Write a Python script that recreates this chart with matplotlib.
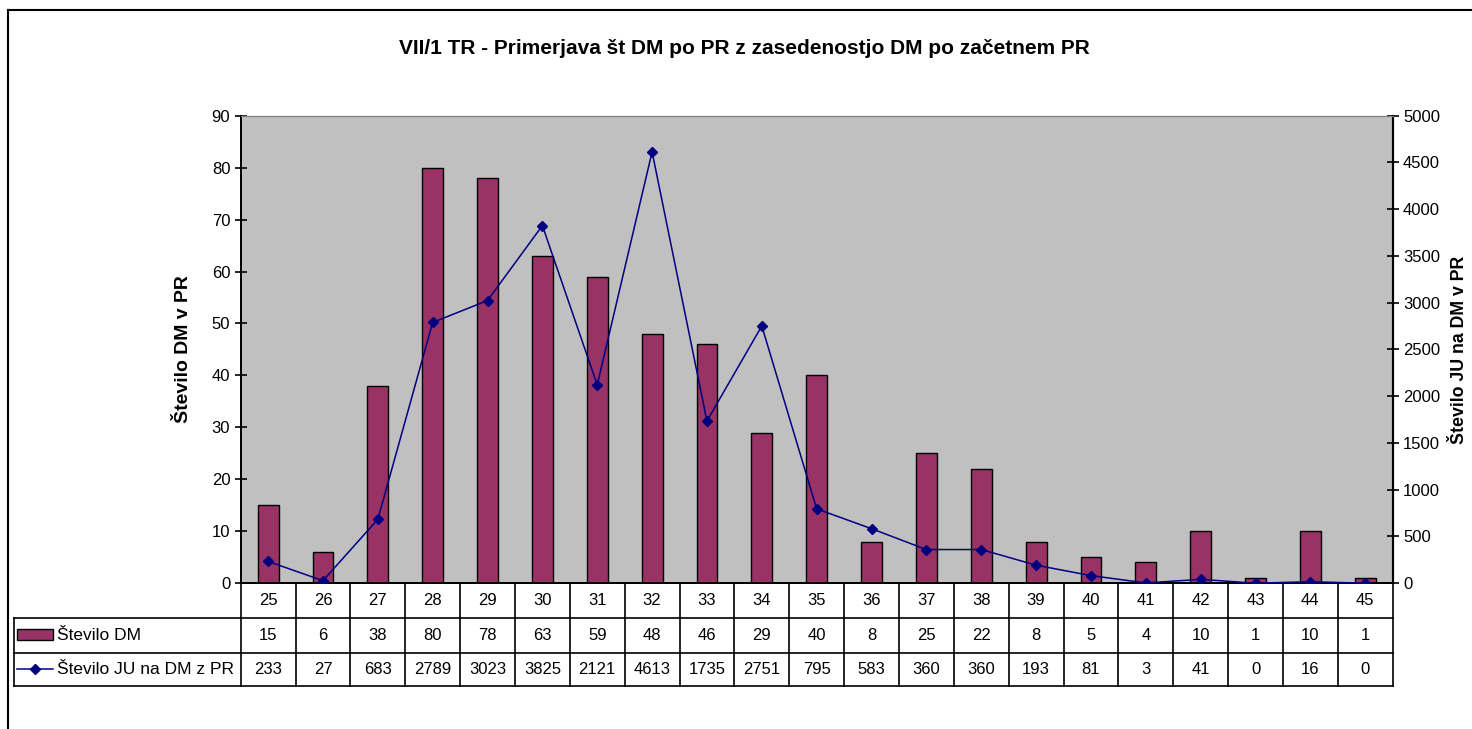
import matplotlib.pyplot as plt
from matplotlib.lines import Line2D
from matplotlib.patches import Rectangle
from matplotlib.transforms import blended_transform_factory

plt.rcParams['font.family'] = ['Liberation Sans', 'DejaVu Sans']

# podatki
kategorije = [25, 26, 27, 28, 29, 30, 31, 32, 33, 34, 35, 36, 37, 38, 39, 40, 41, 42, 43, 44, 45]
stevilo_dm = [15, 6, 38, 80, 78, 63, 59, 48, 46, 29, 40, 8, 25, 22, 8, 5, 4, 10, 1, 10, 1]
stevilo_ju = [233, 27, 683, 2789, 3023, 3825, 2121, 4613, 1735, 2751, 795, 583, 360, 360, 193, 81, 3, 41, 0, 16, 0]

bar_col = '#993366'
line_col = '#000080'

fig = plt.figure(figsize=(14.72, 7.29), dpi=100)
ax = fig.add_axes([0.1635, 0.2, 0.7826, 0.6413])
ax.set_facecolor('#C0C0C0')

x = list(range(len(kategorije)))
ax.bar(x, stevilo_dm, width=0.38, color=bar_col, edgecolor='black', linewidth=1, zorder=2)
ax.set_xlim(-0.5, len(x) - 0.5)
ax.set_ylim(0, 90)
ax.set_yticks(range(0, 91, 10))
ax.set_xticks([])
ax.tick_params(axis='y', direction='inout', length=8, width=1.2, labelsize=12)
ax.set_ylabel('Število DM v PR', fontsize=14, fontweight='bold', labelpad=14)

ax2 = ax.twinx()
ax2.plot(x, stevilo_ju, color=line_col, marker='D', markersize=5.5, linewidth=1.1, zorder=3)
ax2.set_ylim(0, 5000)
ax2.set_yticks(range(0, 5001, 500))
ax2.tick_params(axis='y', direction='inout', length=8, width=1.2, labelsize=12)
ax2.set_ylabel('Število JU na DM v PR', fontsize=12.8, fontweight='bold', labelpad=8)

for a in (ax, ax2):
    a.spines['top'].set_color('#808080')
    a.spines['left'].set_color('black')
    a.spines['right'].set_color('black')
    a.spines['bottom'].set_color('black')
    a.spines['left'].set_linewidth(1.3)
    a.spines['right'].set_linewidth(1.5)
    a.spines['bottom'].set_linewidth(1.3)

# tabela s podatki
tr = blended_transform_factory(ax.transData, ax.transAxes)
rows = [0, -0.0749, -0.1497, -0.219]
leg_left = -0.1972
for i, k in enumerate(kategorije):
    ax.text(i, (rows[0] + rows[1]) / 2, str(k), transform=tr, ha='center', va='center', fontsize=12)
    ax.text(i, (rows[1] + rows[2]) / 2, str(stevilo_dm[i]), transform=tr, ha='center', va='center', fontsize=12)
    ax.text(i, (rows[2] + rows[3]) / 2, str(stevilo_ju[i]), transform=tr, ha='center', va='center', fontsize=12)
for i in range(len(kategorije) + 1):
    ax.add_line(Line2D([i - 0.5, i - 0.5], [rows[0], rows[3]], transform=tr, color='black', lw=1.2, clip_on=False))
for r in rows[1:]:
    ax.add_line(Line2D([leg_left, 1], [r, r], transform=ax.transAxes, color='black', lw=1.2, clip_on=False))
ax.add_line(Line2D([leg_left, leg_left], [rows[1], rows[3]], transform=ax.transAxes, color='black', lw=1.2, clip_on=False))

# legenda v tabeli
ax.add_patch(Rectangle((leg_left + 0.003, rows[1] - 0.046), 0.031, 0.024, transform=ax.transAxes,
                       facecolor=bar_col, edgecolor='black', lw=1, clip_on=False))
ax.text(leg_left + 0.038, (rows[1] + rows[2]) / 2, 'Število DM', transform=ax.transAxes,
        ha='left', va='center', fontsize=12.5)
y_leg = (rows[2] + rows[3]) / 2
ax.add_line(Line2D([leg_left + 0.003, leg_left + 0.034], [y_leg, y_leg], transform=ax.transAxes,
                   color=line_col, lw=1.1, clip_on=False))
ax.add_line(Line2D([leg_left + 0.0185], [y_leg], transform=ax.transAxes,
                   color=line_col, marker='D', markersize=5.5, linestyle='none', clip_on=False))
ax.text(leg_left + 0.038, y_leg, 'Število JU na DM z PR', transform=ax.transAxes,
        ha='left', va='center', fontsize=12.5)

fig.text(0.506, 0.933, 'VII/1 TR - Primerjava št DM po PR z zasedenostjo DM po začetnem PR',
         ha='center', va='center', fontsize=15, fontweight='bold')

# okvir grafa
fig.add_artist(Line2D([0.0054, 1.0], [0.986, 0.986], transform=fig.transFigure, color='black', lw=1.5))
fig.add_artist(Line2D([0.0054, 0.0054], [0.0, 0.986], transform=fig.transFigure, color='black', lw=1.5))

fig.savefig('out.png', dpi=100)
